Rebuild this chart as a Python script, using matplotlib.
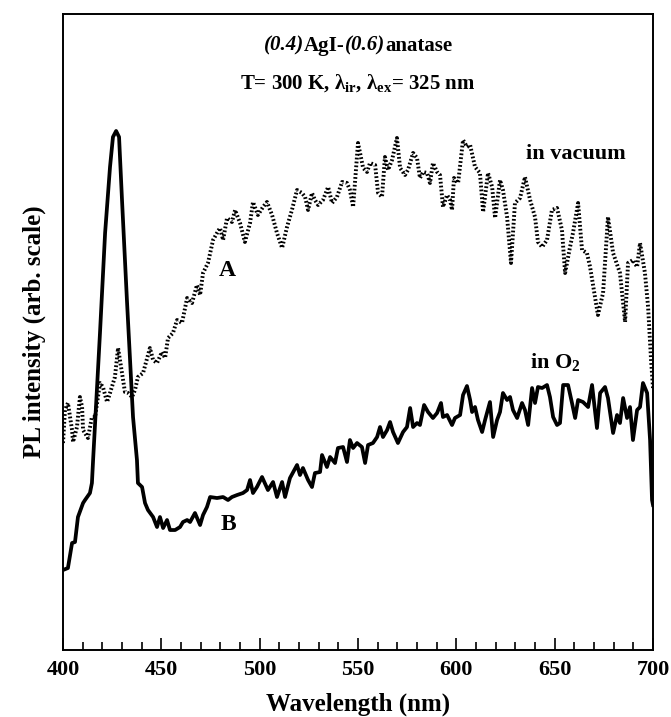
import matplotlib
matplotlib.use("Agg")
import matplotlib.pyplot as plt
from matplotlib.ticker import MultipleLocator
from matplotlib.offsetbox import TextArea, HPacker, AnchoredOffsetbox

plt.rcParams['font.family'] = ['Liberation Serif', 'DejaVu Serif']
plt.rcParams['font.weight'] = 'bold'
plt.rcParams['mathtext.fontset'] = 'custom'
plt.rcParams['mathtext.rm'] = 'Liberation Serif:weight=bold'
plt.rcParams['mathtext.bf'] = 'Liberation Serif:weight=bold'

# PL spectrum in vacuum (curve A), arbitrary intensity units
wl_vacuum = [400, 401.0, 402.5, 404.6, 405.1, 407.1, 408.6, 409.7, 410.2, 412.7, 414.7, 416.3,
             418.8, 420.3, 422.4, 423.9, 426.4, 428.0, 430.0, 431.5, 433.1, 435.1, 436.6, 438.1,
             440.7, 444.2, 445.8, 447.8, 450.3, 451.9, 453.4, 455.9, 458.0, 460.5, 463.1, 465.6,
             468.1, 469.7, 471.2, 473.7, 476.3, 478.3, 479.8, 481.4, 483.4, 485.9, 487.5, 490.0,
             492.5, 495.1, 496.6, 499.1, 501.7, 503.7, 506.3, 508.8, 511.4, 513.9, 516.4, 519.0,
             521.5, 523.1, 524.6, 526.6, 528.1, 529.7, 532.2, 534.8, 536.8, 539.3, 541.9, 544.4,
             545.9, 547.5, 550.0, 552.6, 554.6, 556.1, 558.7, 560.2, 562.2, 563.7, 565.3, 567.3,
             569.8, 571.4, 573.9, 575.4, 578.0, 580.0, 581.5, 583.1, 585.1, 586.6, 588.1, 590.2,
             591.7, 593.2, 595.3, 596.8, 597.8, 598.8, 600.9, 603.4, 605.4, 607.0, 609.5, 612.0,
             613.6, 616.1, 618.2, 619.7, 622.2, 623.7, 625.8, 627.8, 629.8, 632.4, 634.9, 637.5,
             640.0, 641.5, 643.6, 646.1, 648.6, 651.2, 653.7, 655.3, 657.8, 659.3, 661.9, 663.9,
             666.4, 668.0, 670.5, 672.0, 674.6, 677.1, 679.7, 683.2, 685.8, 687.3, 689.8, 691.9,
             693.4, 695.9, 697.5, 699.0, 700]
pl_vacuum = [207, 240, 247, 220, 208, 223, 253, 243, 220, 212, 233, 233,
             267, 263, 248, 257, 273, 302, 277, 258, 257, 253, 260, 273,
             277, 302, 290, 287, 298, 292, 312, 317, 330, 327, 352, 347,
             365, 355, 377, 387, 410, 417, 422, 410, 432, 428, 440, 427,
             408, 427, 448, 435, 443, 448, 435, 417, 402, 423, 440, 460,
             457, 453, 440, 457, 450, 445, 450, 463, 447, 453, 468, 467,
             460, 443, 507, 482, 478, 487, 485, 457, 453, 493, 480, 490,
             512, 482, 475, 480, 497, 492, 472, 478, 477, 467, 487, 478,
             475, 443, 455, 450, 440, 472, 467, 510, 503, 505, 483, 477,
             438, 477, 463, 432, 470, 460, 433, 387, 447, 452, 473, 450,
             433, 408, 403, 410, 440, 442, 420, 377, 403, 417, 447, 400,
             397, 383, 353, 335, 357, 433, 397, 377, 328, 387, 390, 383,
             407, 377, 343, 290, 262]

# PL spectrum in O2 (curve B), arbitrary intensity units
wl_oxygen = [400, 402.5, 404.6, 406.1, 407.6, 410.2, 411.2, 413.7, 414.7, 415.3, 418.8, 421.4,
             423.9, 425.4, 427.0, 428.5, 430.0, 432.5, 435.1, 435.6, 437.6, 438.1, 440.2, 441.7,
             443.2, 445.8, 447.8, 449.3, 450.9, 452.9, 454.4, 457.0, 459.5, 461.0, 463.1, 464.6,
             467.1, 469.7, 471.2, 473.2, 474.8, 478.3, 481.4, 483.9, 485.9, 488.5, 491.5, 493.6,
             495.1, 496.6, 498.6, 501.2, 504.2, 506.8, 508.8, 511.4, 512.9, 515.4, 519.0, 520.5,
             522.0, 524.6, 526.6, 528.1, 530.7, 531.7, 534.2, 535.8, 538.3, 539.8, 542.4, 544.4,
             545.9, 547.5, 549.5, 552.0, 553.6, 555.1, 557.6, 559.7, 561.2, 562.7, 564.8, 566.3,
             567.8, 570.3, 572.9, 574.9, 576.5, 578.0, 580.0, 581.5, 583.6, 585.6, 588.1, 590.2,
             592.2, 593.2, 595.3, 597.8, 599.3, 601.9, 603.4, 605.4, 607.0, 608.0, 609.5, 611.0,
             613.1, 614.6, 617.1, 618.7, 620.7, 622.2, 623.7, 625.8, 627.3, 628.8, 630.9, 633.4,
             634.9, 636.5, 638.5, 640.0, 641.5, 643.6, 646.1, 647.6, 649.2, 651.2, 652.7, 654.3,
             656.8, 658.8, 660.4, 661.9, 664.4, 667.0, 669.0, 671.5, 673.1, 675.6, 677.1, 679.7,
             681.7, 683.2, 684.8, 686.8, 688.3, 689.8, 691.9, 693.4, 694.9, 697.0, 698.5, 699.5,
             700]
pl_oxygen = [80, 82, 107, 108, 133, 147, 150, 157, 167, 190, 317, 417,
             483, 513, 519, 513, 450, 350, 253, 233, 190, 167, 163, 147,
             140, 133, 123, 133, 122, 130, 120, 120, 123, 128, 130, 128,
             137, 125, 135, 143, 153, 152, 153, 150, 153, 155, 157, 160,
             170, 157, 163, 173, 160, 168, 153, 168, 153, 172, 185, 175,
             182, 170, 163, 177, 178, 195, 183, 193, 187, 202, 203, 188,
             210, 202, 207, 203, 187, 205, 207, 213, 223, 213, 220, 228,
             218, 207, 218, 223, 242, 223, 227, 225, 245, 238, 232, 237,
             247, 233, 235, 225, 232, 235, 255, 264, 250, 238, 243, 230,
             218, 230, 248, 213, 230, 238, 257, 250, 253, 240, 232, 247,
             240, 225, 262, 247, 263, 262, 265, 253, 233, 225, 227, 265,
             265, 247, 232, 250, 248, 243, 265, 222, 257, 263, 252, 217,
             235, 227, 252, 232, 243, 210, 240, 243, 267, 257, 210, 150,
             145]

x_ticks = [400, 450, 500, 550, 600, 650, 700]

fig = plt.figure(figsize=(6.71, 7.17), dpi=100)
ax = fig.add_axes([0.0939, 0.0934, 0.8793, 0.8871])

ax.plot(wl_vacuum, pl_vacuum, color='black', lw=2.8, linestyle=(0, (0.45, 0.55)),
        solid_joinstyle='round', dash_joinstyle='round')
ax.plot(wl_oxygen, pl_oxygen, color='black', lw=2.7, solid_joinstyle='round')

ax.set_xlim(400, 700)
ax.set_ylim(0, 636)
ax.set_xticks(x_ticks)
ax.set_xticklabels([str(t) for t in x_ticks])
ax.xaxis.set_minor_locator(MultipleLocator(10))
ax.set_yticks([])
ax.tick_params(axis='x', which='major', direction='in', length=9, width=1.2,
               labelsize=16, pad=7)
ax.tick_params(axis='x', which='minor', direction='in', length=6, width=1.2)
for lab in ax.get_xticklabels():
    lab.set_fontweight('bold')
for s in ax.spines.values():
    s.set_linewidth(1.4)

ax.set_xlabel('Wavelength (nm)', fontsize=18, fontweight='bold', labelpad=9)
ax.set_ylabel('PL intensity (arb. scale)', fontsize=18, fontweight='bold', labelpad=12)

# Sample composition line: mole fractions in italics
title_parts = [('(0.4)', 'italic'), ('AgI-', 'normal'), ('(0.6)', 'italic'), ('anatase', 'normal')]
boxes = [TextArea(txt, textprops=dict(fontsize=15, fontweight='bold', fontstyle=st))
         for txt, st in title_parts]
packed = HPacker(children=boxes, align='baseline', pad=0, sep=0)
anchored = AnchoredOffsetbox(loc='center', child=packed, pad=0, borderpad=0, frameon=False,
                             bbox_to_anchor=(0.5, 0.95), bbox_transform=ax.transAxes)
ax.add_artist(anchored)

ax.text(0.5, 0.89, r'T= 300 K, λ$_{\mathrm{ir}}$, λ$_{\mathrm{ex}}$= 325 nm',
        transform=ax.transAxes, ha='center', va='center', fontsize=15, fontweight='bold')

ax.text(0.87, 0.78, 'in vacuum', transform=ax.transAxes, ha='center', va='center',
        fontsize=16, fontweight='bold')
ax.text(0.835, 0.451, r'in O$_{\mathrm{2}}$', transform=ax.transAxes, ha='center', va='center',
        fontsize=16, fontweight='bold')
ax.text(0.278, 0.597, 'A', transform=ax.transAxes, ha='center', va='center',
        fontsize=17, fontweight='bold')
ax.text(0.28, 0.197, 'B', transform=ax.transAxes, ha='center', va='center',
        fontsize=17, fontweight='bold')

fig.savefig('out.png', dpi=100)
